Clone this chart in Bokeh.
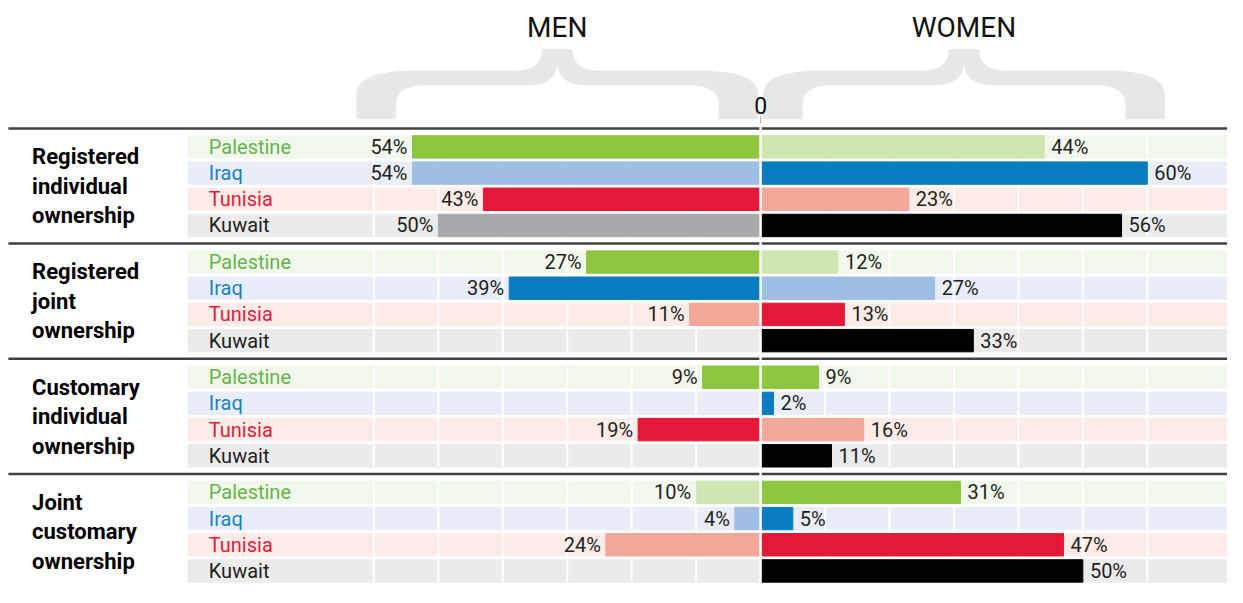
from bokeh.plotting import figure
from bokeh.models import Range1d, ColumnDataSource
from bokeh.core.properties import value
from bokeh.embed import file_html
from bokeh.resources import INLINE

# ---------------- data ----------------
groups = ["Registered\nindividual\nownership",
          "Registered\njoint\nownership",
          "Customary\nindividual\nownership",
          "Joint\ncustomary\nownership"]
countries = ["Palestine", "Iraq", "Tunisia", "Kuwait"]

men_registered_individual = [54, 54, 43, 50]
men_registered_joint = [27, 39, 11, None]
men_customary_individual = [9, None, 19, None]
men_joint_customary = [10, 4, 24, None]

women_registered_individual = [44, 60, 23, 56]
women_registered_joint = [12, 27, 13, 33]
women_customary_individual = [9, 2, 16, 11]
women_joint_customary = [31, 5, 47, 50]

men_groups = [men_registered_individual, men_registered_joint,
              men_customary_individual, men_joint_customary]
women_groups = [women_registered_individual, women_registered_joint,
                women_customary_individual, women_joint_customary]

grid_ticks = [-60, -50, -40, -30, -20, -10, 10, 20, 30, 40, 50, 60]

# ---------------- styles ----------------
dark = {"Palestine": "#8dc63f", "Iraq": "#0a7dc2", "Tunisia": "#e31937", "Kuwait": "#000000"}
light = {"Palestine": "#d0e6b0", "Iraq": "#a0bfe5", "Tunisia": "#f2a799", "Kuwait": "#a7a9ac"}
band = {"Palestine": "#f2f7ec", "Iraq": "#e8edf8", "Tunisia": "#fdebe8", "Kuwait": "#ebebeb"}
label_col = {"Palestine": "#66b34a", "Iraq": "#1a82c8", "Tunisia": "#e5193b", "Kuwait": "#231f20"}
TXT = "#231f20"
FONT = value("Roboto")

# layout (reference pixels; the reference canvas is mapped onto the figure)
K = 6.53          # pixels per percent
ZERO_PX = 770
REF_W, REF_H = 1243, 603
W, H = 1227, 587
Y0, GP, RP, BH = 150.4, 118.3, 26.9, 23


def px2x(px):
    return (px - ZERO_PX) / K


p = figure(width=W, height=H, title=None,
           x_range=Range1d(px2x(0), px2x(REF_W)), y_range=Range1d(REF_H, 0),
           x_axis_location=None, y_axis_location=None,
           output_backend="svg", toolbar_location=None, min_border=0)
p.outline_line_color = None
p.grid.visible = False
p.background_fill_color = "white"
p.border_fill_color = "white"

# ---------------- rows ----------------
rows = dict(y=[], country=[], men=[], women=[], mcol=[], wcol=[], bg=[], lcol=[],
            mlab=[], wlab=[])
for g, (mv, wv) in enumerate(zip(men_groups, women_groups)):
    for r, c in enumerate(countries):
        y = Y0 + g * GP + r * RP
        m = mv[r]
        w = wv[r]
        mm = m if m is not None else 0
        ww = w if w is not None else 0
        rows["y"].append(y)
        rows["country"].append(c)
        rows["men"].append(-mm)
        rows["women"].append(ww)
        rows["mcol"].append(dark[c] if mm >= ww else light[c])
        rows["wcol"].append(dark[c] if ww >= mm else light[c])
        rows["bg"].append(band[c])
        rows["lcol"].append(label_col[c])
        rows["mlab"].append(f"{m}%" if m is not None else "")
        rows["wlab"].append(f"{w}%" if w is not None else "")
src = ColumnDataSource(rows)

# background bands
p.hbar(y="y", left=px2x(190), right=px2x(1250), height=BH, color="bg", source=src)

# white grid lines inside each group
for g in range(len(groups)):
    top = Y0 + g * GP - BH / 2
    bot = Y0 + g * GP + 3 * RP + BH / 2
    p.segment(x0=grid_ticks, x1=grid_ticks, y0=[top] * len(grid_ticks),
              y1=[bot] * len(grid_ticks), line_color="white", line_width=2)

# bars
p.hbar(y="y", left="men", right=0, height=BH, color="mcol", source=src)
p.hbar(y="y", left=0, right="women", height=BH, color="wcol", source=src)

# value labels
p.text(x="men", y="y", text="mlab", x_offset=-5, text_align="right",
       text_baseline="middle", text_font=FONT, text_font_size="20px",
       text_color=TXT, source=src)
p.text(x="women", y="y", text="wlab", x_offset=7, text_align="left",
       text_baseline="middle", text_font=FONT, text_font_size="20px",
       text_color=TXT, source=src)

# country labels
p.text(x=px2x(211), y="y", text="country", text_align="left",
       text_baseline="middle", text_font=FONT, text_font_size="20px",
       text_color="lcol", source=src)

# group labels
gx, gy, gt = [], [], []
for g, name in enumerate(groups):
    lines = name.split("\n")
    center = Y0 + g * GP + 1.5 * RP
    n = len(lines)
    for i, ln in enumerate(lines):
        gx.append(px2x(32))
        gy.append(center + (i - (n - 1) / 2) * 30.3)
        gt.append(ln)
p.text(x=gx, y=gy, text=gt, text_align="left", text_baseline="middle",
       text_font=FONT, text_font_size="22px", text_font_style="bold",
       text_color="#000000")

# separators
seps = [Y0 + g * GP - 19 for g in range(len(groups))]
p.segment(x0=[px2x(8)] * 4, x1=[px2x(1250)] * 4, y0=seps, y1=seps,
          line_color="#404040", line_width=2.5)


# braces
def cubic(p0, p1, p2, p3, n=24):
    pts = []
    for i in range(n + 1):
        t = i / n
        a = (1 - t) ** 3
        b = 3 * (1 - t) ** 2 * t
        c = 3 * (1 - t) * t ** 2
        d = t ** 3
        pts.append((a * p0[0] + b * p1[0] + c * p2[0] + d * p3[0],
                    a * p0[1] + b * p1[1] + c * p2[1] + d * p3[1]))
    return pts


HALF = 203.5
outer = [(0, 122)] + cubic((0, 97), (0, 78), (25, 72), (62, 72)) + \
    cubic((160, 72), (180, 72), (188, 64), (188, 50)) + [(HALF, 50)]
inner = [(40, 122)] + cubic((40, 107), (40, 93), (52, 87), (72, 87)) + \
    cubic((175, 87), (192, 87), (201, 80), (HALF, 66))


def mirror(pt):
    return (2 * HALF - pt[0], pt[1])


poly = outer + [mirror(q) for q in reversed(outer[:-1])] + \
    [mirror(q) for q in inner] + list(reversed(inner[:-1]))

brace_x, brace_y = [], []
for x0 in (360.5, 772.5):
    brace_x.append([px2x(x0 + q[0]) for q in poly])
    brace_y.append([q[1] for q in poly])
p.patches(xs=brace_x, ys=brace_y, fill_color="#e6e7e8", line_color=None)

# headers
p.text(x=[px2x(360.5 + HALF), px2x(772.5 + HALF)], y=[28, 28], text=["MEN", "WOMEN"],
       text_align="center", text_baseline="middle", text_font=FONT,
       text_font_size="28px", text_color="#111111")
p.text(x=[0], y=[107.5], text=["0"], text_align="center", text_baseline="middle",
       text_font=FONT, text_font_size="23px", text_color="#111111")
p.segment(x0=[0], x1=[0], y0=[119], y1=[131], line_color="#aaaaaa", line_width=1)

# zero divider
p.segment(x0=[0], x1=[0], y0=[126], y1=[610], line_color="white", line_width=2.5)

open("out.html", "w").write(file_html(p, INLINE))
